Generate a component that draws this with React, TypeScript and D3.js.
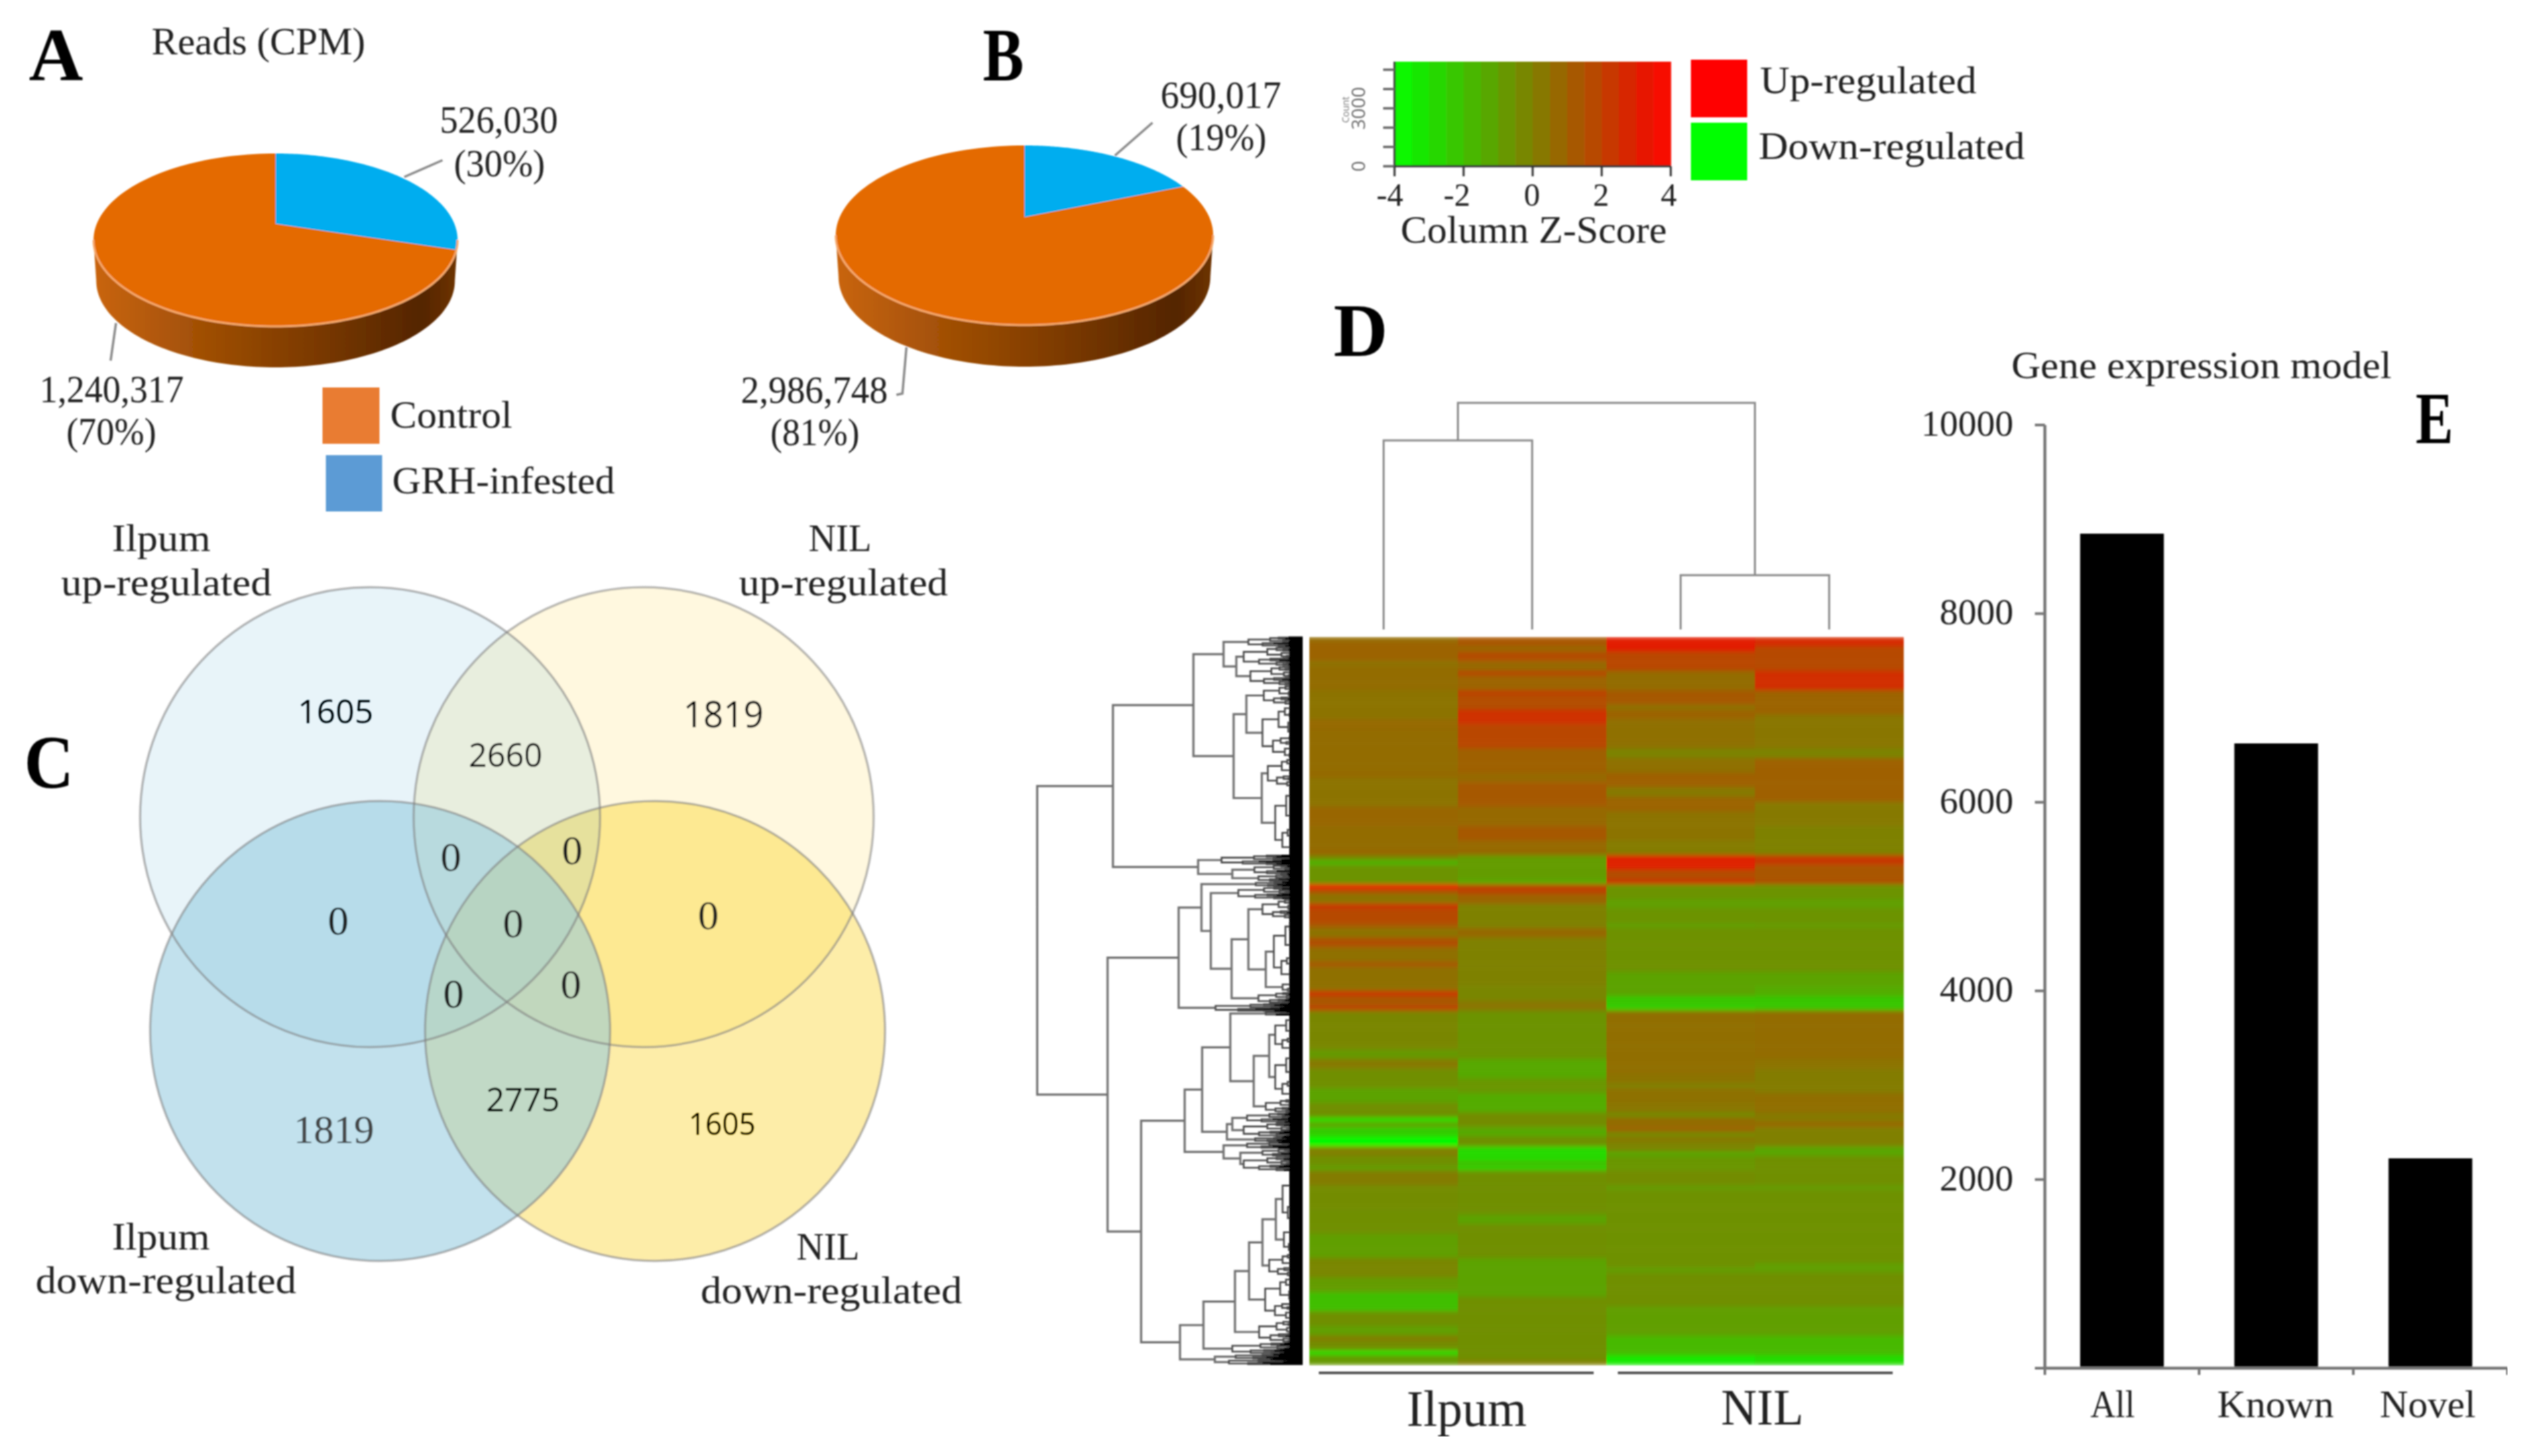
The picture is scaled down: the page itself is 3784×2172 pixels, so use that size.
import React from "react";
import * as d3 from "d3";

// panels A and B
const pieValuesA = [526030, 1240317];
const pieValuesB = [690017, 2986748];
const pieColors = ["#00adef", "#e46a05"];

// panel C, in reading order of the venn regions
const vennCounts = [1605, 2660, 1819, 0, 0, 0, 0, 0, 0, 0, 1819, 2775, 1605];

// panel D, column z-scores as [rows, z] runs
const heatA: [number, number][] = [[1,.6],[4,.9],[1,.4],[5,.6],[6,.4],[2,.7],[9,.6],[1,.7],[6,.4],[4,.8],[5,.6],[1,.8],[1,-.3],[1,-1.7],[4,-.6],[1,3.4],[1,1.3],[2,.4],[1,2.4],[3,1.7],[1,1.25],[2,.4],[2,1.5],[3,.5],[1,1.3],[5,.5],[1,2.5],[2,1.3],[1,2],[8,-.2],[2,-.8],[2,.2],[4,-.5],[3,-1.1],[3,-.5],[1,-3],[1,-.9],[2,-2.4],[2,-3.8],[2,0],[2,-.5],[1,-1],[3,.1],[5,-.4],[5,-.5],[5,-1],[4,-.2],[3,-.9],[4,-2],[3,-.5],[2,-1],[1,.1],[2,-.4],[1,-3],[2,-.8]];
const heatB: [number, number][] = [[2,1.3],[1,.7],[2,1.6],[2,.7],[1,1.8],[3,.9],[1,2],[3,1.6],[3,2.5],[5,1.8],[5,1],[2,.7],[5,1.2],[4,.7],[3,1.2],[3,.7],[5,-.9],[1,-1.3],[2,1.9],[2,.9],[5,-.05],[2,.7],[10,-.05],[3,-.2],[2,.3],[10,-.6],[4,-1.3],[3,-.7],[4,-1.4],[3,-.4],[2,-1.3],[2,-.5],[3,-2.8],[1,-2],[1,-2.5],[9,-.5],[2,-1.1],[7,-.5],[8,-1.1],[13,-.5],[1,0]];
const heatC: [number, number][] = [[3,3.1],[4,1.8],[4,.6],[3,1.2],[1,.4],[2,.9],[6,.5],[2,-.1],[3,.5],[3,1],[2,.2],[3,.9],[6,.4],[3,.15],[3,3],[2,1.6],[1,2.4],[3,-.6],[2,-1],[3,-.6],[1,-1],[9,-.55],[5,-1.1],[2,-2.2],[1,-2.5],[13,.55],[2,.4],[1,-.05],[3,.45],[2,.3],[1,-.4],[2,.6],[1,.9],[1,-.4],[1,.3],[2,-.1],[1,-1.3],[3,-.7],[3,-.4],[1,-.9],[16,-.55],[1,-1],[7,-.5],[6,-1],[4,-1.8],[2,-3.3]];
const heatD: [number, number][] = [[2,2.7],[5,1.7],[4,2.6],[5,.9],[7,.3],[2,-.1],[9,1],[5,.2],[6,-.05],[2,2.2],[3,1.3],[1,1.5],[3,-.6],[2,-1],[3,-.6],[1,-.9],[9,-.55],[3,-1.1],[2,-1.4],[3,-2.2],[10,.6],[2,.4],[5,.1],[4,.55],[2,.2],[1,.8],[4,0],[2,-1.2],[6,-.5],[1,-.9],[15,-.55],[2,-1],[7,-.5],[6,-1],[4,-1.8],[2,-2.9]];
const heatColumns = [heatA, heatB, heatC, heatD];

// row dendrogram: [height, rows] is a cluster, [height, a, b] a merge
type Tree = [number, number] | [number, Tree, Tree];
const rowTree: Tree = [396,
  [283,
    [163,
      [118, [81, 2], [99, [88, 4], [78, 4]]],
      [103, [84, [58, 4], [60, 11]], [61, [52, 6], [41, 14]]]],
    [156, [121, 2], [105, [72, 2], [66, 1.5]]]],
  [291,
    [185,
      [151, [70, 1], [137, [96, 2.6], [106, [81, [60, 4], [55, [43, 13], [30, 2.2]]], [66, 2.4]]]],
      [130, 1.6]],
    [241,
      [176,
        [150,
          [108, [55, .8], [73, [50, [41, 7.6], [41, 9.7]], [55, 2.8]]],
          [113, [105, [83, 2], [88, 3]], [71, 1]]],
        [118, [83, 1.4], [93, [60, 1.6], [88, 3]]]],
      [183,
        [148,
          [101, [80, [60, [40, [30, 11], [28, 6]], [50, 4.8]], [56, 9]], [65, 4.6]],
          [105, 2.4]],
        [131, [100, 1], [110, 1.2]]]]]];

const columnMerges = { left: 282, right: 81, root: 338 };
const heatLabels = ["Ilpum", "NIL"];

// panel E
const barCategories = ["All", "Known", "Novel"];
const barValues = [8848, 6624, 2225];

// colour key
const keyTicks = [-4, -2, 0, 2, 4];
const keyCells = d3.range(-3.75, 4, 0.5);
const countTicks = [0, 1000, 2000, 3000, 4000, 5000];

const serif = "'Liberation Serif', serif";
const sans = "'Open Sans', sans-serif";
const heatColor = d3.scaleLinear<string>().domain([-4, 4]).range(["#00ff00", "#ff0000"]);

const T = ({ x, w, y, size, bold, fill, font, children }: any) => (
  <text
    x={x}
    y={y}
    fontSize={size}
    fontWeight={bold ? "bold" : "normal"}
    fontFamily={font ?? serif}
    fill={fill ?? "#222"}
    textLength={w}
    lengthAdjust="spacingAndGlyphs"
  >
    {children}
  </text>
);

const Pie3D = ({ id, values, cx, apexY, rimX, up, down, depth }: any) => {
  const k = (up - down) / (up + down);
  const a = up * (1 - k);
  const R = rimX * Math.sqrt(1 - k * k);
  const project = (t: number, extra = 0, shrink = 1): [number, number] => {
    const py = -Math.cos(t);
    const den = 1 + k * py;
    return [cx + (shrink * R * Math.sin(t)) / den, apexY + (a * py) / den + extra];
  };
  const line = d3.line();
  const sweep = (t0: number, t1: number, extra = 0, shrink = 1) =>
    d3.range(0, 121).map((i) => project(t0 + ((t1 - t0) * i) / 120, extra, shrink));
  const edge = Math.acos(k);
  const tau = 2 * Math.PI;
  const side = [...sweep(edge, tau - edge), ...sweep(tau - edge, edge, depth, 0.985)];
  const arcs = d3.pie<number>().sort(null)(values);
  return (
    <g>
      <defs>
        <linearGradient id={id}>
          <stop offset="0" stopColor="#c9650e" />
          <stop offset="0.3" stopColor="#a04f06" />
          <stop offset="0.6" stopColor="#7c3a02" />
          <stop offset="0.9" stopColor="#542500" />
          <stop offset="1" stopColor="#6e3300" />
        </linearGradient>
      </defs>
      <path d={line(side) + "Z"} fill={`url(#${id})`} />
      {arcs.map((d, i) => (
        <path
          key={i}
          d={`M${cx},${apexY}` + line(sweep(d.startAngle, d.endAngle))!.replace("M", "L") + "Z"}
          fill={pieColors[i]}
        />
      ))}
      <path d={line(sweep(edge, tau - edge))!} fill="none" stroke="#f6a96c" strokeWidth={3} />
    </g>
  );
};

const Leader = ({ d }: { d: string }) => <path d={d} fill="none" stroke="#8a8a8a" strokeWidth={3.5} />;

// merges, the finest twigs of each cluster fan out below them
const buildRowTree = () => {
  const total = (n: Tree): number => (n.length === 2 ? n[1] : total(n[1]) + total(n[2]));
  const rows = total(rowTree);
  const yRow = d3.scaleLinear().domain([0, rows]).range([950, 2036]);
  const xH = d3.scaleLinear().domain([0, 396]).range([1943, 1547]);
  const main = d3.path();
  const twigs = d3.path();
  const leaves = d3.path();

  const bracket = (p: d3.Path, h: number, a: any, b: any) => {
    p.moveTo(xH(a.h), a.y);
    p.lineTo(xH(h), a.y);
    p.lineTo(xH(h), b.y);
    p.lineTo(xH(b.h), b.y);
  };
  const fan = (y0: number, y1: number, h: number, depth: number): { y: number; h: number } => {
    if (y1 - y0 < 2.6) {
      leaves.moveTo(xH(h), (y0 + y1) / 2);
      leaves.lineTo(xH(0), (y0 + y1) / 2);
      return { y: (y0 + y1) / 2, h };
    }
    const odd = depth % 2 === 1;
    const cut = y0 + (y1 - y0) * (odd ? 0.42 : 0.58);
    const a = fan(y0, cut, h * (odd ? 0.74 : 0.6), depth + 1);
    const b = fan(cut, y1, h * (odd ? 0.6 : 0.74), depth + 1);
    bracket(twigs, h, a, b);
    return { y: (a.y + b.y) / 2, h };
  };
  let cursor = 0;
  const walk = (n: Tree): { y: number; h: number } => {
    if (n.length === 2) {
      const y0 = yRow(cursor);
      cursor += n[1];
      return fan(y0, yRow(cursor), n[0], 0);
    }
    const a = walk(n[1]);
    const b = walk(n[2]);
    bracket(main, n[0], a, b);
    return { y: (a.y + b.y) / 2, h: n[0] };
  };
  walk(rowTree);
  return { main: main.toString(), twigs: twigs.toString(), leaves: leaves.toString(), x0: xH(0), x1: xH(20) };
};

export default function App() {
  const vennCircles = [
    { cx: 960, cy: 1219, fill: "#ffffff", alpha: 1 },
    { cx: 977, cy: 1538, fill: "#fad015", alpha: 0.38 },
    { cx: 552, cy: 1219, fill: "#70bbda", alpha: 0.16 },
    { cx: 567, cy: 1538, fill: "#93cadf", alpha: 0.56 },
  ];
  const vennSpots = [
    { x: 444, y: 1079, w: 113, size: 50, font: sans, fill: "#000" },
    { x: 699, y: 1144, w: 110, size: 50, font: sans, fill: "#000" },
    { x: 1019, y: 1085, w: 120, size: 54, font: sans, fill: "#000" },
    { x: 657, y: 1299, w: 31, size: 62 },
    { x: 838, y: 1289, w: 31, size: 62 },
    { x: 489, y: 1394, w: 31, size: 62 },
    { x: 750, y: 1398, w: 31, size: 62 },
    { x: 1041, y: 1386, w: 31, size: 62 },
    { x: 661, y: 1503, w: 31, size: 62 },
    { x: 836, y: 1489, w: 31, size: 62 },
    { x: 438, y: 1705, w: 120, size: 60, fill: "#444" },
    { x: 725, y: 1658, w: 110, size: 50, font: sans, fill: "#000" },
    { x: 1027, y: 1693, w: 100, size: 46, font: sans, fill: "#000" },
  ];

  const xHeat = d3.scaleBand<number>().domain([0, 1, 2, 3]).range([1953, 2839]);
  const yHeat = d3.scaleBand<number>().domain(d3.range(150)).range([950, 2036]);
  const columns = heatColumns.map((runs) => runs.flatMap(([n, z]) => Array(n).fill(z) as number[]));
  const center = (i: number) => xHeat(i)! + xHeat.bandwidth() / 2;
  const yMerge = d3.scaleLinear().domain([0, columnMerges.root]).range([939, 601]);
  const leftMid = (center(0) + center(1)) / 2;
  const rightMid = (center(2) + center(3)) / 2;
  const columnPath =
    `M${center(0)},${yMerge(0)}V${yMerge(columnMerges.left)}H${center(1)}V${yMerge(0)}` +
    `M${center(2)},${yMerge(0)}V${yMerge(columnMerges.right)}H${center(3)}V${yMerge(0)}` +
    `M${leftMid},${yMerge(columnMerges.left)}V${yMerge(columnMerges.root)}H${rightMid}V${yMerge(columnMerges.right)}`;
  const tree = buildRowTree();

  const xKey = d3.scaleLinear().domain([-4, 4]).range([2080, 2492]);
  const yCount = d3.scaleLinear().domain([0, 5000]).range([248, 104]);
  const keyNudge = [-7, -10, -1, -1, -3];

  const xBar = d3.scaleBand<string>().domain(barCategories).range([3050, 3740]).paddingInner(0.457).paddingOuter(0.2285);
  const yBar = d3.scaleLinear().domain([0, 10000]).range([2041, 634]);
  const barLabelNudge = [-14, -1, -4];
  const barLabelWidth = [66, 174, 143];
  const barStep = xBar.step();

  return (
    <svg width={3784} height={2172} style={{ position: "absolute", left: 0, top: 0, display: "block" }}>
      <defs>
        <filter id="soft" x="0" y="0" width="100%" height="100%">
          <feGaussianBlur stdDeviation="1.1" />
        </filter>
        <filter id="rowBlur" x="0" y="0" width="100%" height="100%">
          <feGaussianBlur stdDeviation="0 3" edgeMode="duplicate" />
        </filter>
      </defs>
      <rect width={3784} height={2172} fill="#fff" />
      <g filter="url(#soft)">
        {/* A */}
        <T x={43} w={81} y={120} size={113} bold fill="#000">A</T>
        <T x={226} w={319} y={81} size={58}>Reads (CPM)</T>
        <Pie3D id="sideA" values={pieValuesA} cx={411} apexY={334} rimX={271.5} up={105} down={153} depth={61} />
        <T x={656} w={176} y={198} size={56}>526,030</T>
        <T x={677} w={136} y={263} size={56}>(30%)</T>
        <Leader d="M603,264L660,239" />
        <T x={59} w={215} y={600} size={56}>1,240,317</T>
        <T x={99} w={134} y={663} size={56}>(70%)</T>
        <Leader d="M173,482L165,538" />
        <rect x={481} y={578} width={85} height={84} fill="#e97c30" />
        <rect x={486} y={679} width={84} height={84} fill="#5b9bd5" />
        <T x={582} w={182} y={638} size={56}>Control</T>
        <T x={585} w={332} y={736} size={56}>GRH-infested</T>

        {/* B */}
        <T x={1466} w={61} y={120} size={113} bold fill="#000">B</T>
        <Pie3D id="sideB" values={pieValuesB} cx={1528} apexY={324} rimX={281.5} up={107} down={161} depth={62} />
        <T x={1731} w={180} y={161} size={56}>690,017</T>
        <T x={1754} w={135} y={224} size={56}>(19%)</T>
        <Leader d="M1663,232L1719,183" />
        <T x={1105} w={219} y={601} size={56}>2,986,748</T>
        <T x={1149} w={133} y={664} size={56}>(81%)</T>
        <Leader d="M1352,518L1346,587L1337,589" />

        {/* colour key */}
        {keyCells.map((z) => (
          <rect key={z} x={xKey(z - 0.25)} y={92} width={xKey(0.5) - xKey(0) + 0.5} height={156} fill={heatColor(z)} />
        ))}
        <path d="M2080,92V248H2492" fill="none" stroke="#333" strokeWidth={3} />
        {countTicks.map((c) => (
          <line key={c} x1={2063} x2={2080} y1={yCount(c)} y2={yCount(c)} stroke="#666" strokeWidth={3.5} />
        ))}
        {keyTicks.map((z, i) => (
          <g key={z}>
            <line x1={xKey(z)} x2={xKey(z)} y1={248} y2={263} stroke="#333" strokeWidth={3} />
            <text x={xKey(z) + keyNudge[i]} y={307} fontSize={48} fontFamily={serif} fill="#222" textAnchor="middle">{z}</text>
          </g>
        ))}
        <text transform={`translate(2012,${yCount(3000) + 2}) rotate(-90)`} fontSize={14} fontFamily={sans} fill="#777" textAnchor="middle">Count</text>
        <text transform={`translate(2036,${yCount(3000)}) rotate(-90)`} fontSize={28} fontFamily={sans} fill="#666" textAnchor="middle" textLength={64} lengthAdjust="spacingAndGlyphs">3000</text>
        <text transform={`translate(2036,${yCount(0)}) rotate(-90)`} fontSize={28} fontFamily={sans} fill="#666" textAnchor="middle">0</text>
        <T x={2089} w={397} y={362} size={56}>Column Z-Score</T>
        <rect x={2522} y={89} width={84} height={86} fill={heatColor(4)} />
        <rect x={2522} y={183} width={84} height={86} fill={heatColor(-4)} />
        <T x={2625} w={323} y={139} size={56}>Up-regulated</T>
        <T x={2623} w={397} y={237} size={56}>Down-regulated</T>

        {/* C */}
        <T x={36} w={74} y={1175} size={113} bold fill="#000">C</T>
        <T x={167} w={147} y={822} size={56}>Ilpum</T>
        <T x={91} w={314} y={888} size={56}>up-regulated</T>
        <T x={1206} w={94} y={822} size={56}>NIL</T>
        <T x={1102} w={312} y={888} size={56}>up-regulated</T>
        <T x={167} w={146} y={1864} size={56}>Ilpum</T>
        <T x={53} w={389} y={1929} size={56}>down-regulated</T>
        <T x={1188} w={94} y={1879} size={56}>NIL</T>
        <T x={1045} w={390} y={1944} size={56}>down-regulated</T>
        <circle cx={960} cy={1219} r={343} fill="#fff8df" />
        {vennCircles.slice(1).map((c) => (
          <circle key={c.cx} cx={c.cx} cy={c.cy} r={343} fill={c.fill} fillOpacity={c.alpha} />
        ))}
        {vennCircles.map((c) => (
          <circle key={c.cx} cx={c.cx} cy={c.cy} r={343} fill="none" stroke="#7d7d7d" strokeOpacity={0.55} strokeWidth={3.5} />
        ))}
        {vennCounts.map((v, i) => (
          <T key={i} {...vennSpots[i]}>{v}</T>
        ))}

        {/* D */}
        <T x={1989} w={81} y={531} size={113} bold fill="#000">D</T>
        <path d={columnPath} fill="none" stroke="#8a8a8a" strokeWidth={3} />
        <path d={tree.main} fill="none" stroke="#707070" strokeWidth={3.2} />
        <path d={tree.twigs} fill="none" stroke="#4a4a4a" strokeWidth={2.6} />
        <path d={tree.leaves} fill="none" stroke="#000" strokeWidth={2.8} />
        <rect x={tree.x1} y={950} width={tree.x0 - tree.x1} height={1086} fill="#000" />
        <g filter="url(#rowBlur)">
          {columns.map((col, c) =>
            col.map((z, r) => (
              <rect key={`${c}-${r}`} x={xHeat(c)} y={yHeat(r)} width={xHeat.bandwidth() + 0.5} height={yHeat.bandwidth() + 0.5} fill={heatColor(z)} />
            ))
          )}
        </g>
        <line x1={1967} x2={2377} y1={2048} y2={2048} stroke="#555" strokeWidth={4} />
        <line x1={2413} x2={2823} y1={2048} y2={2048} stroke="#555" strokeWidth={4} />
        <T x={2098} w={179} y={2127} size={76}>{heatLabels[0]}</T>
        <T x={2567} w={123} y={2125} size={76}>{heatLabels[1]}</T>

        {/* E */}
        <T x={3000} w={567} y={564} size={56}>Gene expression model</T>
        <T x={3603} w={56} y={661} size={110} bold fill="#000">E</T>
        {barCategories.map((c, i) => (
          <g key={c}>
            <rect x={xBar(c)} y={yBar(barValues[i])} width={xBar.bandwidth()} height={yBar(0) - yBar(barValues[i])} fill="#000" />
            <T x={xBar(c)! + xBar.bandwidth() / 2 + barLabelNudge[i] - barLabelWidth[i] / 2} w={barLabelWidth[i]} y={2114} size={56}>{c}</T>
            <line x1={3050 + barStep * i} x2={3050 + barStep * i} y1={2041} y2={2051} stroke="#777" strokeWidth={4} />
          </g>
        ))}
        <line x1={3740} x2={3740} y1={2041} y2={2051} stroke="#777" strokeWidth={4} />
        <path d={`M3050,${yBar(10000)}V${yBar(0)}H3740`} fill="none" stroke="#777" strokeWidth={4.5} />
        {yBar.ticks(5).map((t) => (
          <g key={t}>
            <line x1={3035} x2={3050} y1={yBar(t)} y2={yBar(t)} stroke="#777" strokeWidth={4} />
            {t > 0 && (
              <text x={3003} y={yBar(t) + 16} fontSize={55} fontFamily={serif} fill="#222" textAnchor="end">{t}</text>
            )}
          </g>
        ))}
      </g>
    </svg>
  );
}
